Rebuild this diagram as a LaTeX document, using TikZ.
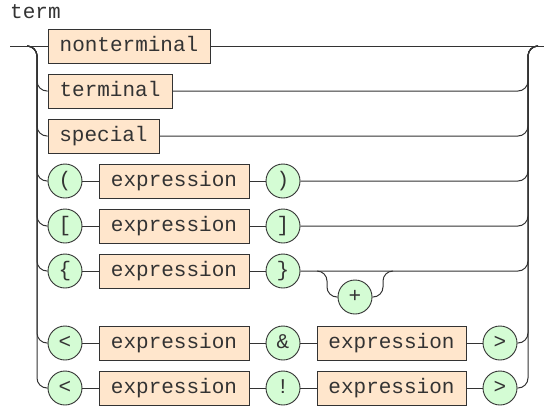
\documentclass[tikz,border=0pt]{standalone}
\usepackage{fontspec}
\newfontfamily\rrmono{Liberation Mono}
\definecolor{boxfill}{RGB}{255,230,204}
\definecolor{circfill}{RGB}{212,252,212}
\definecolor{ink}{RGB}{51,51,51}
\tikzset{
  rr/.style={x=1pt,y=-1pt},
  wire/.style={draw=ink, line width=1pt, rounded corners=10pt},
  ntbox/.style={draw=ink, fill=boxfill, line width=0.9pt, minimum height=34pt, inner sep=0pt,
    text height=11pt, text depth=0pt, font=\rrmono\fontsize{21}{25}\selectfont, text=ink},
  tcirc/.style={circle, draw=ink, fill=circfill, line width=0.9pt, minimum size=34pt, inner sep=0pt,
    text height=11pt, text depth=0pt, font=\rrmono\fontsize{21}{25}\selectfont, text=ink},
}
\begin{document}
\begin{tikzpicture}[rr]
\useasboundingbox (0,0) rectangle (546,405);
\node[anchor=base west, font=\rrmono\fontsize{21}{25}\selectfont, text=ink, inner sep=0pt] (title) at (10,18.5) {term};

% coordinates
\coordinate (in) at (10,46);
\coordinate (sL) at (27,46);
\coordinate (rL) at (37,46);
\coordinate (rR) at (528,46);
\coordinate (eR) at (538,46);
\coordinate (out) at (544,46);

% row 1-3
\node[ntbox, minimum width=162pt] (nt) at (129,46) {nonterminal};
\node[ntbox, minimum width=124pt] (t) at (110,91) {terminal};
\node[ntbox, minimum width=111pt] (sp) at (103.5,136) {special};

% row 4-6
\node[tcirc] (lp) at (65,181) {(};
\node[ntbox, minimum width=150pt] (e4) at (174,181) {expression};
\node[tcirc] (rp) at (283,181) {)};

\node[tcirc] (lb) at (65,226) {[};
\node[ntbox, minimum width=150pt] (e5) at (174,226) {expression};
\node[tcirc] (rb) at (283,226) {]};

\node[tcirc] (lc) at (65,271) {\{};
\node[ntbox, minimum width=150pt] (e6) at (174,271) {expression};
\node[tcirc] (rc) at (283,271) {\}};

\node[tcirc] (plus) at (355,297) {+};
\coordinate (lpA) at (317,271);
\coordinate (lpB) at (383,271);
\coordinate (lpC) at (393,271);

% row 7
\node[tcirc] (lt1) at (65,343) {<};
\node[ntbox, minimum width=150pt] (e7a) at (174,343) {expression};
\node[tcirc] (amp) at (283,343) {\&};
\node[ntbox, minimum width=149pt] (e7b) at (391.5,343) {expression};
\node[tcirc] (gt1) at (500,343) {>};

% row 8
\node[tcirc] (lt2) at (65,388) {<};
\node[ntbox, minimum width=150pt] (e8a) at (174,388) {expression};
\node[tcirc] (excl) at (283,388) {!};
\node[ntbox, minimum width=149pt] (e8b) at (391.5,388) {expression};
\node[tcirc] (gt2) at (500,388) {>};

% main line
\draw[wire] (in) -- (nt.west);
\draw[wire] (nt.east) -- (out);

% left rail branches
\foreach \n in {t,sp,lp,lb,lc,lt1,lt2}{
  \draw[wire] (sL) -- (rL) |- (\n.west);
}
% right rail branches
\foreach \n in {t,sp,rp,rb,rc,gt1,gt2}{
  \draw[wire] (\n.east) -| (rR) -- (eR);
}

% inner connectors
\draw[wire] (lp) -- (e4) (e4) -- (rp);
\draw[wire] (lb) -- (e5) (e5) -- (rb);
\draw[wire] (lc) -- (e6) (e6) -- (rc);
\draw[wire] (lt1) -- (e7a) (e7a) -- (amp) (amp) -- (e7b) (e7b) -- (gt1);
\draw[wire] (lt2) -- (e8a) (e8a) -- (excl) (excl) -- (e8b) (e8b) -- (gt2);

% plus loop
\draw[wire] (lpA) -- ++(10,0) |- (plus.west);
\draw[wire] (plus.east) -| (lpB) -- (lpC);
\end{tikzpicture}
\end{document}
